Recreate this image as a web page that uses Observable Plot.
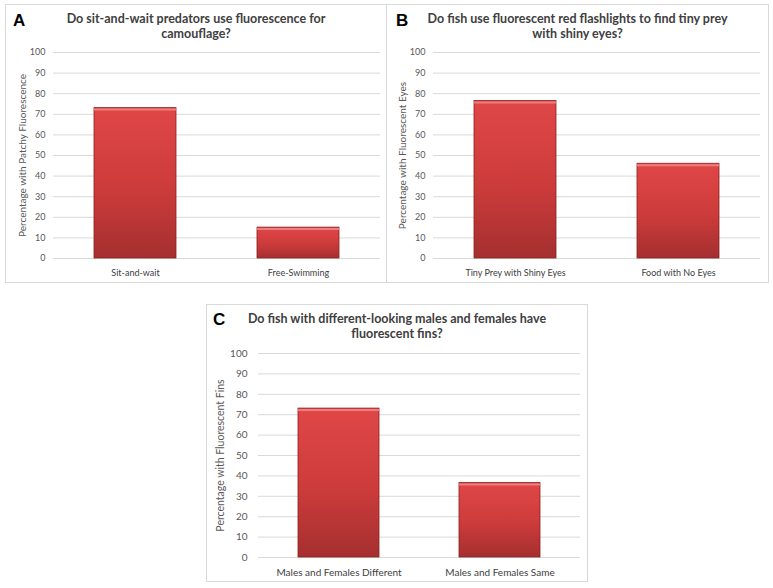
<!DOCTYPE html>
<html><head><meta charset="utf-8">
<script src="https://cdn.jsdelivr.net/npm/d3@7"></script>
<script src="https://cdn.jsdelivr.net/npm/@observablehq/plot@0.6"></script>
<style>
body{margin:0;background:#fff;width:773px;height:588px;position:relative;overflow:hidden;font-family:Lato,sans-serif}
.panel{position:absolute;border:1px solid #d9d9d9;box-sizing:border-box;background:#fff}
.panel svg.plot{position:absolute;left:0;top:0}
.letter{position:absolute;font:bold 17px/17px "Liberation Sans",Arial,sans-serif;color:#000}
.title{position:absolute;left:0;right:0;font:bold 12.5px/15px Lato,sans-serif;color:#404040;text-align:center}
</style>
</head><body>
<svg width="0" height="0" style="position:absolute">
  <defs>
    <linearGradient id="redgrad" x1="0" y1="0" x2="0" y2="1">
      <stop offset="0" stop-color="#e04747"/>
      <stop offset="0.55" stop-color="#cc3b3b"/>
      <stop offset="1" stop-color="#a52f2f"/>
    </linearGradient>
  </defs>
</svg>
<script>
// ---- data ----
const yTicks = [0, 10, 20, 30, 40, 50, 60, 70, 80, 90, 100];

const catsA = ["Sit-and-wait", "Free-Swimming"];
const valsA = [73, 15];
const titleA = ["Do sit-and-wait predators use fluorescence for", "camouflage?"];
const ylabelA = "Percentage with Patchy Fluorescence";

const catsB = ["Tiny Prey with Shiny Eyes", "Food with No Eyes"];
const valsB = [76.5, 46];
const titleB = ["Do fish use fluorescent red flashlights to find tiny prey", "with shiny eyes?"];
const ylabelB = "Percentage with Fluorescent Eyes";

const catsC = ["Males and Females Different", "Males and Females Same"];
const valsC = [73, 36.5];
const titleC = ["Do fish with different-looking males and females have", "fluorescent fins?"];
const ylabelC = "Percentage with Fluorescent Fins";

// ---- layout per panel ----
const panels = [
  {letter: "A", cats: catsA, vals: valsA, title: titleA, ylabel: ylabelA,
   box: {left: 5, top: 4, width: 382, height: 279}, letterPos: {left: 7, top: 7},
   m: {l: 47, r: 6, t: 47, b: 24}, font: 9, labelFont: 10, tickPad: 8, xPad: 11, labelOffset: 35},
  {letter: "B", cats: catsB, vals: valsB, title: titleB, ylabel: ylabelB,
   box: {left: 386, top: 4, width: 383, height: 279}, letterPos: {left: 9, top: 7},
   m: {l: 46, r: 8, t: 47, b: 24}, font: 9, labelFont: 10, tickPad: 8, xPad: 11, labelOffset: 35},
  {letter: "C", cats: catsC, vals: valsC, title: titleC, ylabel: ylabelC,
   box: {left: 206, top: 304, width: 382, height: 278}, letterPos: {left: 6, top: 6},
   m: {l: 51, r: 7, t: 48, b: 24}, font: 10, labelFont: 10.5, tickPad: 11, xPad: 11, labelOffset: 42}
];

for (const p of panels) {
  const div = document.createElement("div");
  div.className = "panel";
  Object.assign(div.style, {left: p.box.left + "px", top: p.box.top + "px",
    width: p.box.width + "px", height: p.box.height + "px"});
  document.body.appendChild(div);

  const data = p.cats.map((c, i) => ({cat: c, val: p.vals[i]}));
  const w = p.box.width - 2, h = p.box.height - 2;

  const chart = Plot.plot({
    width: w, height: h,
    marginLeft: p.m.l, marginRight: p.m.r, marginTop: p.m.t, marginBottom: p.m.b,
    style: {fontFamily: "Lato, sans-serif", fontSize: p.font + "px", color: "#595959", background: "transparent", overflow: "visible"},
    x: {domain: p.cats, paddingInner: 0.5, paddingOuter: 0.25},
    y: {domain: [0, 100]},
    marks: [
      Plot.gridY(yTicks, {stroke: "#d9d9d9", strokeOpacity: 1}),
      Plot.ruleY([0], {stroke: "#d9d9d9"}),
      Plot.barY(data, {x: "cat", y: "val", fill: "url(#redgrad)", stroke: "#8e1f1f", strokeWidth: 0.8}),
      Plot.tickY(data, {x: "cat", y: "val", stroke: "#ee7d7d", strokeWidth: 2, dy: 1.5}),
      Plot.axisY({ticks: yTicks, tickSize: 0, tickPadding: p.tickPad, label: p.ylabel,
        labelAnchor: "center", labelArrow: "none", labelOffset: p.labelOffset, fill: "#595959"}),
      Plot.axisX({tickSize: 0, tickPadding: p.xPad, label: null, fill: "#404040"})
    ]
  });
  chart.classList.add("plot");
  const lab = chart.querySelector('[aria-label="y-axis label"]');
  if (lab) lab.style.fontSize = p.labelFont + "px";
  div.appendChild(chart);

  const L = document.createElement("div");
  L.className = "letter";
  L.textContent = p.letter;
  Object.assign(L.style, {left: p.letterPos.left + "px", top: p.letterPos.top + "px"});
  div.appendChild(L);

  const T = document.createElement("div");
  T.className = "title";
  T.style.top = "6px";
  p.title.forEach((line, i) => {
    if (i) T.appendChild(document.createElement("br"));
    T.appendChild(document.createTextNode(line));
  });
  div.appendChild(T);
}
</script>
</body></html>
